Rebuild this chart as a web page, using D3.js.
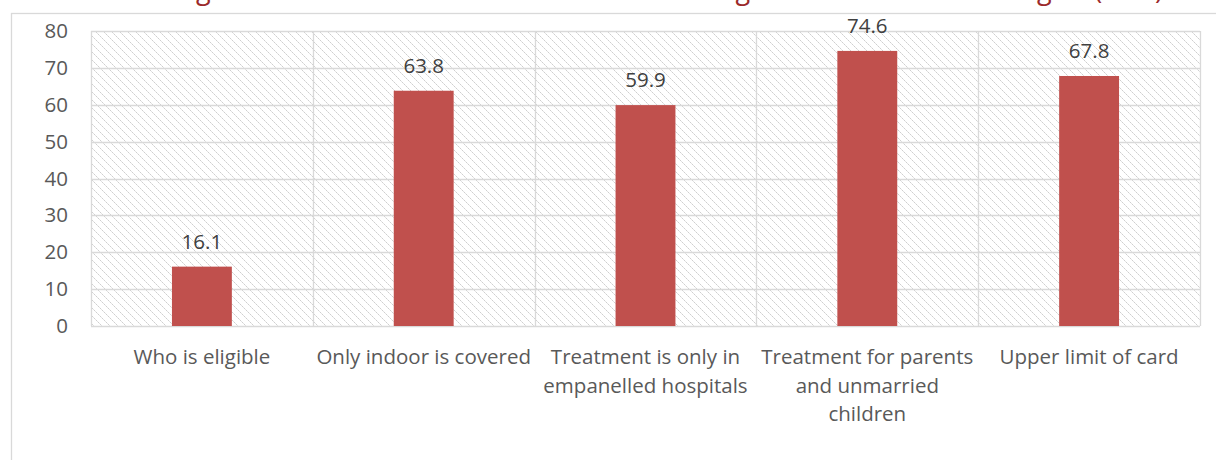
<!DOCTYPE html>
<html>
<head>
<meta charset="utf-8">
<script src="https://cdn.jsdelivr.net/npm/d3@7"></script>
<style>
  html, body { margin: 0; padding: 0; background: #fff; overflow: hidden; }
  svg { display: block; }
  text { font-family: "Open Sans", "Noto Sans", sans-serif; }
</style>
</head>
<body>
<svg id="chart" width="1216" height="460"></svg>
<script>
const categories = [
  "Who is eligible",
  "Only indoor is covered",
  "Treatment is only in\nempanelled hospitals",
  "Treatment for parents\nand unmarried\nchildren",
  "Upper limit of card"
];
const values = [16.1, 63.8, 59.9, 74.6, 67.8];
const yTicks = [0, 10, 20, 30, 40, 50, 60, 70, 80];
const titleText = "Figure 5: Beneficiaries with a lack of knowledge about the card among all (in %)";

const svg = d3.select("#chart");
const plot = { left: 91, right: 1200, top: 31, bottom: 326 };
const FS = 20.5;

// hatch pattern
const defs = svg.append("defs");
const pat = defs.append("pattern")
  .attr("id", "hatch").attr("patternUnits", "userSpaceOnUse")
  .attr("width", 8).attr("height", 8);
pat.append("rect").attr("width", 8).attr("height", 8).attr("fill", "#ffffff");
for (let k = 0; k < 8; k += 1) {
  pat.append("rect").attr("x", k).attr("y", k).attr("width", 1).attr("height", 1)
    .attr("fill", k % 2 === 0 ? "#cfcfcf" : "#e2e2e2");
}

// title (clipped at the top edge, as in the reference)
svg.append("text")
  .attr("x", 1163).attr("y", -1)
  .attr("text-anchor", "end")
  .attr("font-size", 27)
  .attr("fill", "#9b2a2a")
  .text(titleText);

// outer chart border
svg.append("rect")
  .attr("x", 11.5).attr("y", 13.5).attr("width", 1300).attr("height", 600)
  .attr("fill", "none").attr("stroke", "#d9d9d9").attr("stroke-width", 1.3);

const y = d3.scaleLinear().domain([0, 80]).range([plot.bottom, plot.top]);
const x = d3.scaleBand().domain(categories).range([plot.left, plot.right])
  .paddingInner(0.73).paddingOuter(0.365);
const step = x.step();

// plot area background
svg.append("rect")
  .attr("x", plot.left).attr("y", plot.top)
  .attr("width", plot.right - plot.left).attr("height", plot.bottom - plot.top)
  .attr("fill", "url(#hatch)");

// horizontal gridlines
svg.append("g").selectAll("line").data(yTicks).join("line")
  .attr("x1", plot.left).attr("x2", plot.right)
  .attr("y1", d => Math.round(y(d)) + 0.5).attr("y2", d => Math.round(y(d)) + 0.5)
  .attr("stroke", "#d9d9d9").attr("stroke-width", 1.3);

// vertical separators
const seps = d3.range(categories.length + 1).map(i => plot.left + i * step);
svg.append("g").selectAll("line").data(seps).join("line")
  .attr("x1", d => Math.round(d) + 0.5).attr("x2", d => Math.round(d) + 0.5)
  .attr("y1", plot.top).attr("y2", plot.bottom)
  .attr("stroke", "#d9d9d9").attr("stroke-width", 1.3);

// y axis labels
const yAxis = d3.axisLeft(y).tickValues(yTicks).tickSize(0).tickPadding(0);
const gy = svg.append("g").attr("transform", `translate(68,0)`).call(yAxis);
gy.select(".domain").remove();
gy.selectAll("text")
  .attr("font-family", "Open Sans, sans-serif")
  .attr("font-size", FS).attr("fill", "#595959");

// bars
svg.append("g").selectAll("rect").data(values).join("rect")
  .attr("x", (d, i) => x(categories[i]))
  .attr("width", x.bandwidth())
  .attr("y", d => y(d))
  .attr("height", d => y(0) - y(d))
  .attr("fill", "#c0504d");

// value labels
svg.append("g").selectAll("text").data(values).join("text")
  .attr("x", (d, i) => x(categories[i]) + x.bandwidth() / 2)
  .attr("y", d => y(d) - 18)
  .attr("text-anchor", "middle")
  .attr("font-size", FS).attr("fill", "#404040")
  .text(d => d.toFixed(1));

// category labels
const cat = svg.append("g").selectAll("text").data(categories).join("text")
  .attr("x", d => x(d) + x.bandwidth() / 2)
  .attr("y", 364)
  .attr("text-anchor", "middle")
  .attr("font-size", FS).attr("fill", "#595959");
cat.each(function(d) {
  const t = d3.select(this);
  const cx = t.attr("x");
  d.split("\n").forEach((line, i) => {
    t.append("tspan").attr("x", cx).attr("dy", i === 0 ? 0 : 28.5).text(line);
  });
});
</script>
</body>
</html>
